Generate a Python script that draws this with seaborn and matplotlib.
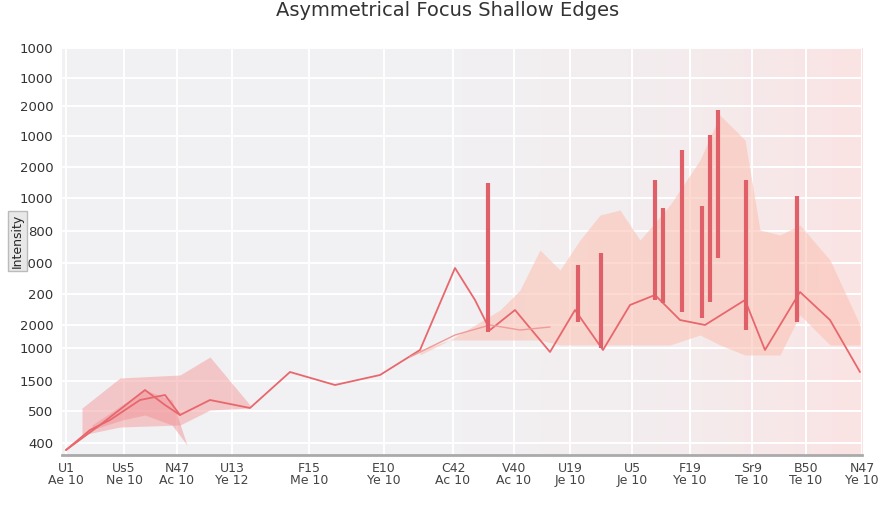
import numpy as np
import matplotlib
matplotlib.use("Agg")
import matplotlib.pyplot as plt
import seaborn as sns

# x positions and labels of the time ticks
tick_x = [4, 62, 115, 170, 247, 322, 391, 452, 508, 570, 628, 690, 744, 800]
tick_labels = ["U1\nAe 10", "Us5\nNe 10", "N47\nAc 10", "U13\nYe 12", "F15\nMe 10",
               "E10\nYe 10", "C42\nAc 10", "V40\nAc 10", "U19\nJe 10", "U5\nJe 10",
               "F19\nYe 10", "Sr9\nTe 10", "B50\nTe 10", "N47\nYe 10"]
ytick_pos = [407, 377, 349, 319, 288, 257, 224, 192, 161, 130, 107, 74, 44, 12]
ytick_labels = ["1000", "1000", "2000", "1000", "2000", "1000", "800", "1000", "200",
                "2000", "1000", "1500", "500", "400"]

# main line
main_x = [4, 28, 48, 78, 103, 118, 148, 188, 228, 273, 318, 358, 393, 413, 428,
          453, 488, 513, 541, 568, 593, 618, 643, 683, 703, 738, 768, 798]
main_y = [5, 25, 35, 55, 60, 40, 55, 47, 83, 70, 80, 105, 187, 155, 125,
          145, 103, 145, 105, 150, 160, 135, 130, 155, 105, 163, 135, 83]
# early secondary line
sec_x = [4, 38, 83, 103, 118]
sec_y = [5, 30, 65, 50, 40]
mid_x = [348, 393, 428, 458, 488]
mid_y = [98, 120, 130, 125, 128]

# early band
band1_x = [20, 58, 118, 148, 188]
band1_up = [47, 77, 80, 98, 50]
band1_lo = [20, 28, 30, 45, 47]
band2_x = [30, 60, 83, 110, 125]
band2_up = [30, 50, 65, 55, 10]
band2_lo = [25, 35, 40, 30, 10]
# right band
band3_x = [358, 388, 438, 458, 478, 498, 518, 538, 558, 578, 608, 638, 658,
           683, 698, 718, 738, 768, 798]
band3_up = [105, 115, 145, 165, 205, 185, 215, 240, 245, 215, 250, 295, 340,
            315, 225, 220, 230, 195, 130]
band3_lo = [100, 115, 115, 115, 115, 110, 110, 110, 110, 110, 110, 120, 110,
            100, 100, 100, 140, 110, 110]

# vertical bars: x, top, bottom
bar_x = [426, 516, 539, 593, 601, 620, 640, 648, 656, 684, 735]
bar_top = [272, 190, 202, 275, 247, 305, 249, 320, 345, 275, 259]
bar_bot = [123, 133, 107, 155, 152, 143, 137, 153, 197, 125, 133]

sns.set_style("whitegrid")
plt.rcParams["font.family"] = ["DejaVu Sans"]

fig = plt.figure(figsize=(8.96, 5.12), dpi=100)
ax = fig.add_axes([62 / 896, 57 / 512, 800 / 896, 407 / 512])
ax.set_facecolor("#f1f1f3")

# pink gradient on right side
grad = np.linspace(0, 1, 256).reshape(1, -1) ** 2
ax.imshow(grad, extent=[0, 800, 0, 407], aspect="auto", cmap=matplotlib.colors.LinearSegmentedColormap.from_list(
    "g", ["#f1f1f300", "#fbe3e3ff"]), zorder=0)

red = "#e8676d"
ax.fill_between(band1_x, band1_lo, band1_up, color="#f4a3a5", alpha=0.55, lw=0)
ax.fill_between(band2_x, band2_lo, band2_up, color="#f08c90", alpha=0.45, lw=0)
ax.fill_between(band3_x, band3_lo, band3_up, color="#fbc3b5", alpha=0.6, lw=0)
sns.lineplot(x=main_x, y=main_y, ax=ax, color=red, lw=1.3, sort=False)
sns.lineplot(x=sec_x, y=sec_y, ax=ax, color=red, lw=1.3, sort=False)
sns.lineplot(x=mid_x, y=mid_y, ax=ax, color="#f09a9a", lw=1.0, sort=False)
ax.vlines(bar_x, bar_bot, bar_top, color="#e0606a", lw=3)

ax.set_xlim(0, 800)
ax.set_ylim(0, 407)
ax.set_xticks(tick_x)
ax.set_xticklabels(tick_labels, fontsize=9, color="#444444", linespacing=0.9)
ax.set_yticks(ytick_pos)
ax.set_yticklabels(ytick_labels, fontsize=9.5, color="#333333")
ax.grid(color="white", lw=1.4)
for s in ["top", "right", "left"]:
    ax.spines[s].set_visible(False)
ax.spines["bottom"].set_color("#aaaaaa")
ax.spines["bottom"].set_linewidth(2)
ax.tick_params(axis="x", length=4, color="#aaaaaa", pad=1)
ax.tick_params(axis="y", length=0, pad=6)
fig.text(0.012, 0.53, "Intensity", rotation=90, fontsize=9, va="center",
         bbox=dict(facecolor="#e8e8e8", edgecolor="#bbbbbb", pad=2))
fig.text(0.5, 0.998, "Asymmetrical Focus Shallow Edges", ha="center", va="top",
         fontsize=14, color="#333333")
fig.savefig("out.png", dpi=100)
